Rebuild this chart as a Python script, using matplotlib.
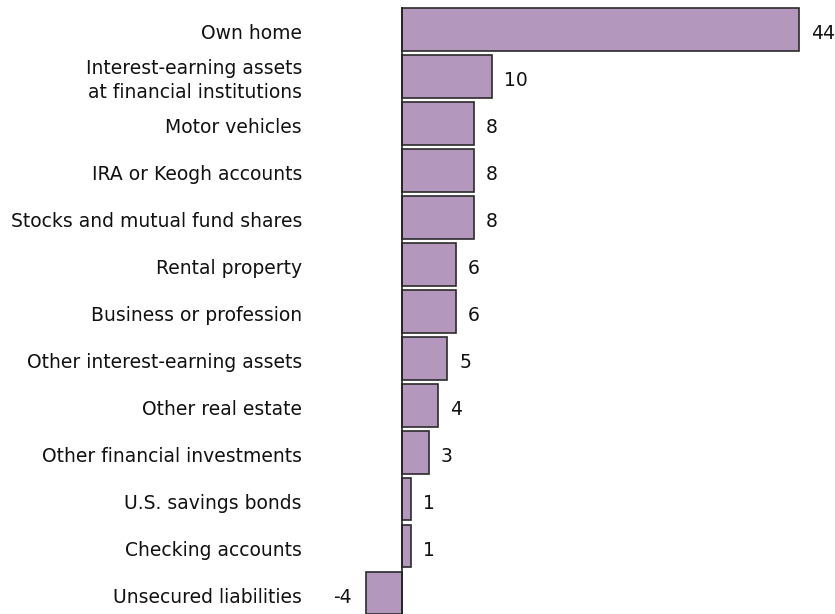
import matplotlib
matplotlib.use("Agg")
import matplotlib.pyplot as plt

categories = [
    "Own home",
    "Interest-earning assets\nat financial institutions",
    "Motor vehicles",
    "IRA or Keogh accounts",
    "Stocks and mutual fund shares",
    "Rental property",
    "Business or profession",
    "Other interest-earning assets",
    "Other real estate",
    "Other financial investments",
    "U.S. savings bonds",
    "Checking accounts",
    "Unsecured liabilities",
]
values = [44, 10, 8, 8, 8, 6, 6, 5, 4, 3, 1, 1, -4]
labels = ["44", "10", "8", "8", "8", "6", "6", "5", "4", "3", "1", "1", "-4"]

W, H = 835, 614
fig = plt.figure(figsize=(W / 100, H / 100), dpi=100)
left, right = 362, 835
top, bottom = 7, 614
ax = fig.add_axes([left / W, 1 - bottom / H, (right - left) / W, (bottom - top) / H])

ppu = 9.02
ax.set_xlim(-(402 - left) / ppu, (right - 402) / ppu)
pitch = 46.96
c0 = 29.5
ax.set_ylim((bottom - c0) / pitch, -(c0 - top) / pitch)

y = list(range(len(categories)))
ax.barh(y, values, height=0.91, color="#b397bd", edgecolor="#2b2b2b", linewidth=1.2, zorder=2)
ax.axvline(0, color="#222222", linewidth=1.2, zorder=3)

fs = 13.5
dy = -4
for i, (v, lab) in enumerate(zip(values, labels)):
    if v >= 0:
        ax.annotate(lab, (v, i), xytext=(12, dy), textcoords="offset pixels",
                    ha="left", va="center", fontsize=fs, color="#111111")
    else:
        ax.annotate(lab, (v, i), xytext=(-14, dy), textcoords="offset pixels",
                    ha="right", va="center", fontsize=fs, color="#111111")
    ax.annotate(categories[i], (0, i), xytext=(-100, dy), textcoords="offset pixels",
                ha="right", va="center", fontsize=fs, color="#111111",
                linespacing=1.35, annotation_clip=False)

ax.set_xticks([])
ax.set_yticks([])
for s in ax.spines.values():
    s.set_visible(False)

fig.savefig("out.png", dpi=100)
